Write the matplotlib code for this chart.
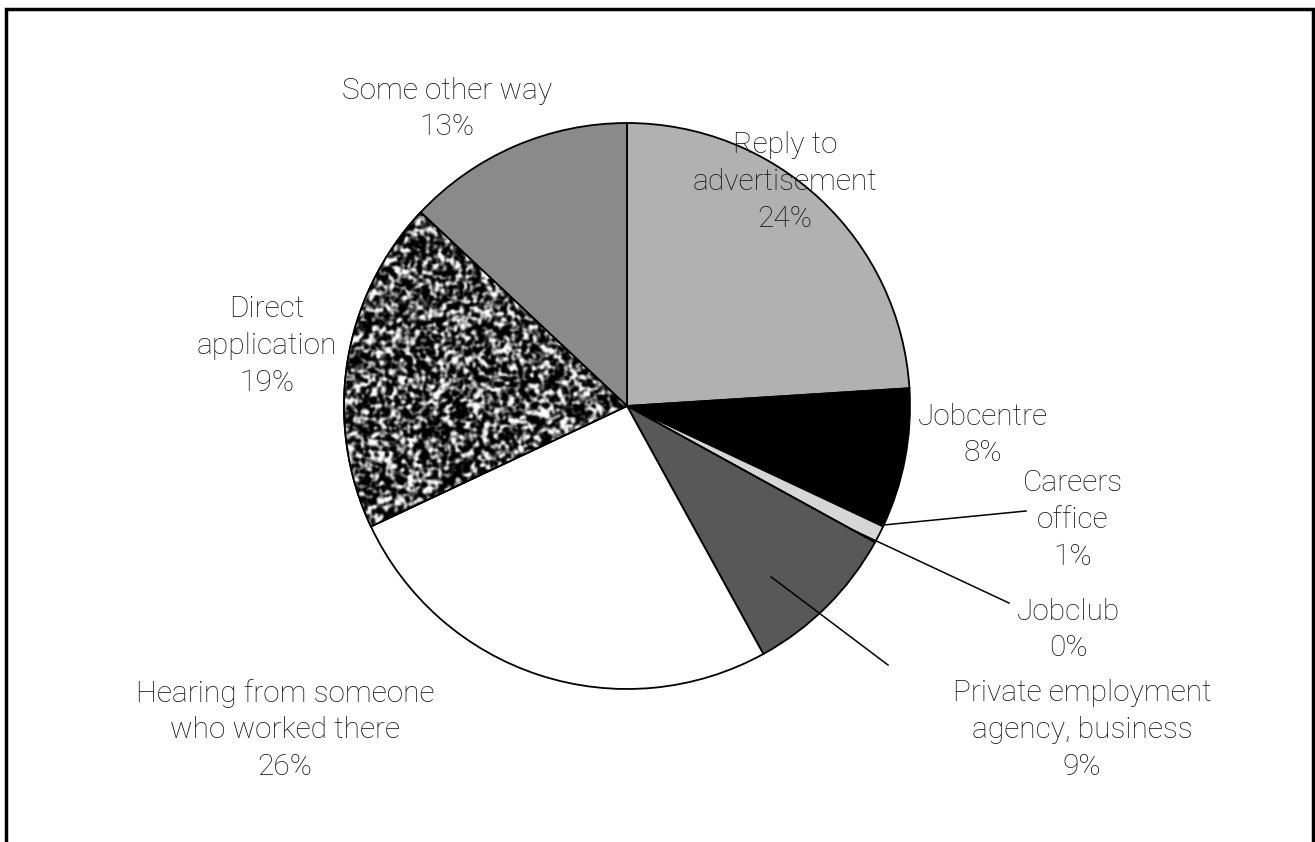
import numpy as np
import matplotlib.pyplot as plt
from matplotlib.patches import Wedge

# How people found their current job (share of respondents)
labels = ["Reply to\nadvertisement", "Jobcentre", "Careers\noffice", "Jobclub",
          "Private employment\nagency, business", "Hearing from someone\nwho worked there",
          "Direct\napplication", "Some other way"]
shares = [24, 8, 1, 0, 9, 26, 19, 13]
colors = ["#b1b1b1", "#000000", "#d6d6d6", "#ffffff", "#585858", "#ffffff",
          "#2a2a2a", "#8a8a8a"]

W, H = 1315, 842
fig = plt.figure(figsize=(W / 100, H / 100), dpi=100)
ax = fig.add_axes([0, 0, 1, 1])
ax.set_xlim(0, W)
ax.set_ylim(0, H)
ax.set_aspect("equal")
ax.axis("off")

cx, cy, R = 627, H - 406, 283
wedges, _ = ax.pie(shares, startangle=90, counterclock=False, colors=colors,
                   center=(cx, cy), radius=R, normalize=True,
                   wedgeprops=dict(edgecolor="black", linewidth=1.3))
ax.set_xlim(0, W)
ax.set_ylim(0, H)

# speckled fill for the "Direct application" wedge
rng = np.random.default_rng(7)
noise = rng.random((240, 212))
for _ in range(2):
    noise = (noise + np.roll(noise, 1, 0) + np.roll(noise, -1, 0)
             + np.roll(noise, 1, 1) + np.roll(noise, -1, 1)) / 5
img = ax.imshow(noise, cmap="gray", vmin=0.46, vmax=0.63, interpolation="bicubic",
                extent=(cx - 300, cx, cy - 150, cy + 190), zorder=2)
img.set_clip_path(wedges[6])
ax.add_patch(Wedge((cx, cy), R, wedges[6].theta1, wedges[6].theta2,
                   facecolor="none", edgecolor="black", linewidth=1.3, zorder=3))

font = dict(family="Roboto", weight="light", fontsize=21.5, color="#111111",
            ha="center", va="center", linespacing=1.4)

# label block centres, measured from top-left
label_xy = [(785, 182), (983, 435), (1073, 520), (1068, 630), (1082, 730),
            (285, 730), (267, 346), (447, 109)]
for lab, s, (x, y) in zip(labels, shares, label_xy):
    ax.text(x, H - y, f"{lab}\n{s}%", **font)


def rim(w, frac, r):
    a = np.deg2rad(w.theta1 + frac * (w.theta2 - w.theta1))
    return cx + r * R * np.cos(a), cy + r * R * np.sin(a)


# leader lines for the small slices
leaders = [(2, 1.0, 0.99, (1026, 511)),
           (3, 0.0, 0.90, (1009, 603)),
           (4, 0.35, 0.79, (888, 665))]
for i, frac, r, (x, y) in leaders:
    px, py = rim(wedges[i], frac, r)
    ax.plot([x, px], [H - y, py], color="black", linewidth=1.1, zorder=4)

# open-bottom frame
ax.plot([6, 6, 1313, 1313], [0, H - 9, H - 9, 0], color="black", linewidth=2.5,
        solid_joinstyle="miter", clip_on=False)

fig.savefig("out.png", dpi=100, facecolor="white")
